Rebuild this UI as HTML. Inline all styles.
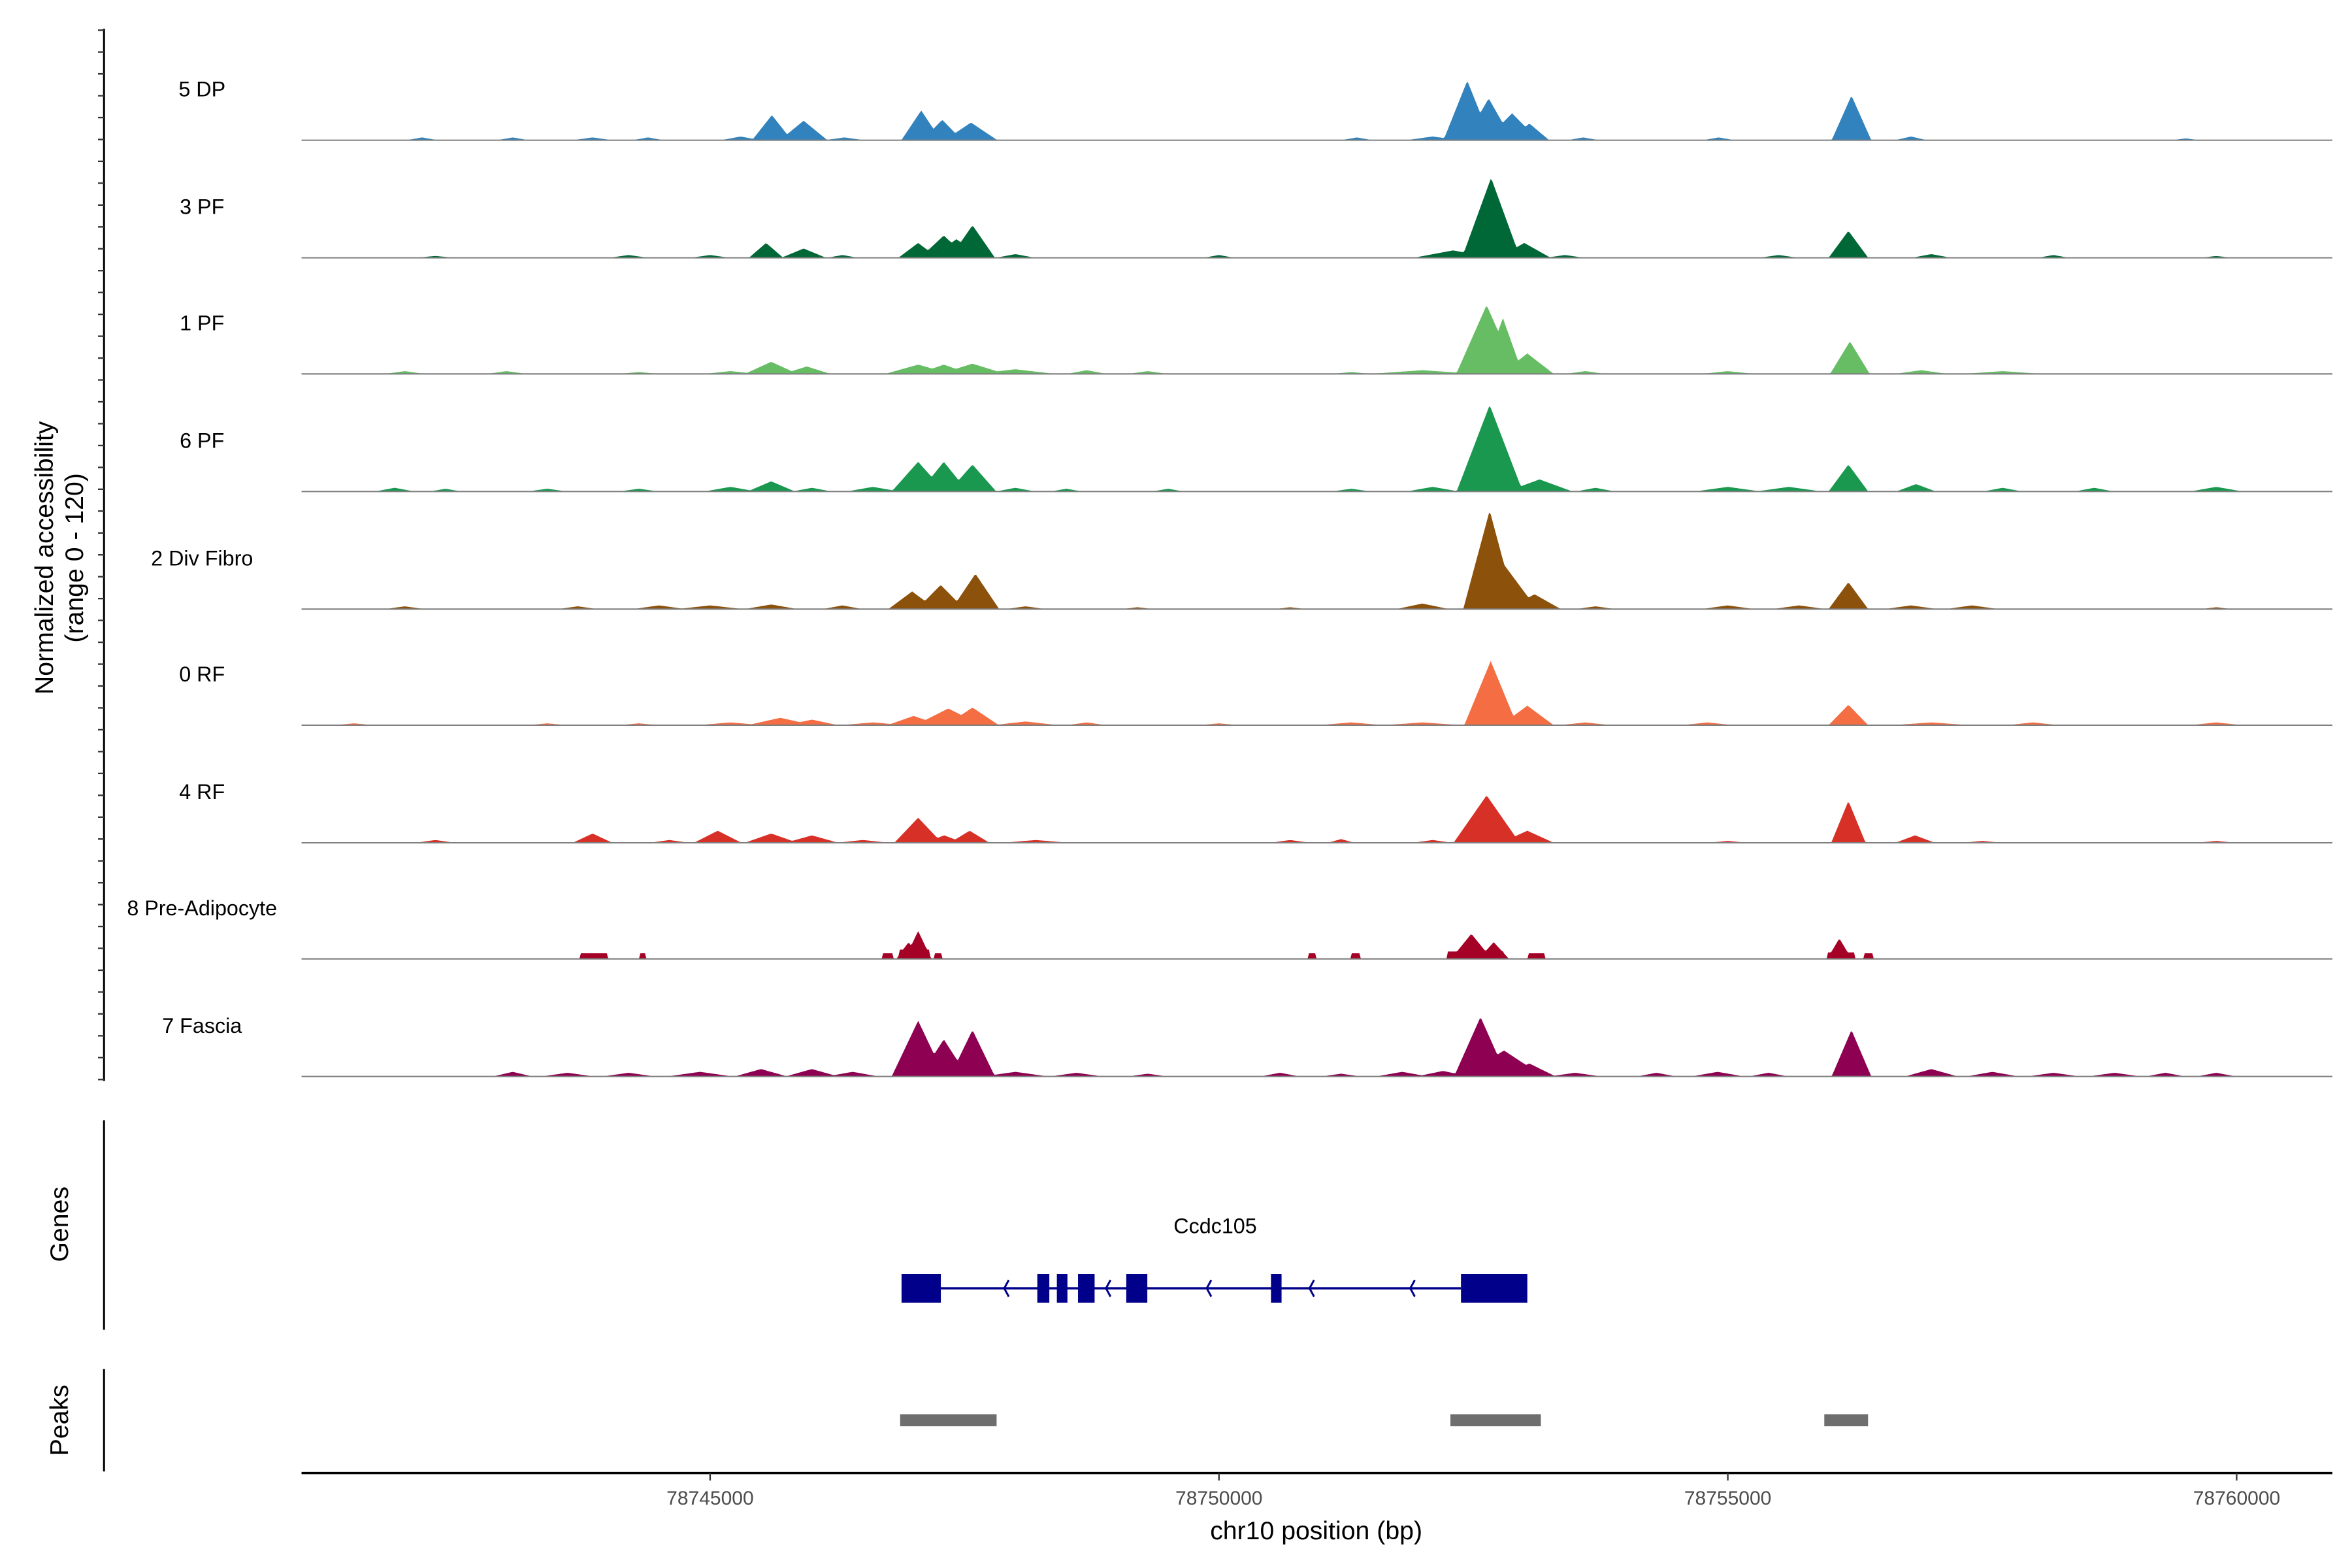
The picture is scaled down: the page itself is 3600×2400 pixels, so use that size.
<!DOCTYPE html>
<html><head><meta charset="utf-8"><style>
html,body{margin:0;padding:0;background:#fff}
svg{display:block}
text{font-family:"Liberation Sans",Arial,sans-serif}
</style></head><body>
<svg id="chart" width="3600" height="2400" viewBox="0 0 1560 1040" xmlns="http://www.w3.org/2000/svg">
<g id="tracks"></g>
<g id="yaxis"></g>
<text transform="translate(35,370) rotate(-90)" text-anchor="middle" font-size="17">Normalized accessibility</text>
<text transform="translate(55,370) rotate(-90)" text-anchor="middle" font-size="17">(range 0 - 120)</text>
<line x1="69" y1="743" x2="69" y2="882" stroke="#000" stroke-width="1.3"/>
<text transform="translate(45,812) rotate(-90)" text-anchor="middle" font-size="17">Genes</text>
<line x1="69" y1="908" x2="69" y2="976" stroke="#000" stroke-width="1.3"/>
<text transform="translate(45,942) rotate(-90)" text-anchor="middle" font-size="17">Peaks</text>
<g id="genes"></g>
<g id="peaks"></g>
<g id="xaxis"></g>
<text x="873" y="1021" text-anchor="middle" font-size="17">chr10 position (bp)</text>
</svg>
<script>
// ---- data ----
const trackNames = ["5 DP","3 PF","1 PF","6 PF","2 Div Fibro","0 RF","4 RF","8 Pre-Adipocyte","7 Fascia"];
const trackColors = ["#3182bd","#006837","#66bd63","#1a9850","#8c510a","#f46d43","#d73027","#a50026","#8e0152"];
// peaks per track: [position bp, value, half-width bp]
const peaks5DP = [[78742170,3,120],[78743060,3,120],[78743845,3,150],[78744390,3,120],[78745300,4,150],[78745607,27,150],[78745919,21,180],[78746320,3,150],[78747074,32,150],[78747281,22,150],[78747563,19,200],[78751355,3,120],[78752100,4,200],[78752440,64,180],[78752650,45,180],[78752880,29,200],[78753050,18,150],[78753580,3,120],[78754910,3,120],[78756215,48,150],[78756800,4,120],[78759500,2,100]];
const peaks3PF = [[78742300,2,150],[78744200,3,150],[78745000,3,150],[78745550,16,130],[78745919,10,170],[78746300,3,120],[78747044,16,150],[78747296,24,180],[78747420,20,200],[78747578,35,170],[78748000,4,150],[78750000,3,120],[78752300,8,300],[78752674,86,220],[78753000,16,200],[78753400,3,150],[78755500,3,150],[78756185,29,150],[78757000,4,150],[78758200,3,120],[78759800,2,120]];
const peaks1PF = [[78742000,3,150],[78743000,3,150],[78744300,2,150],[78745200,3,200],[78745600,13,200],[78745950,8,180],[78747044,10,250],[78747296,10,200],[78747578,11,250],[78748000,5,300],[78748700,4,150],[78749300,3,150],[78751300,2,150],[78752000,4,400],[78752630,74,230],[78752790,60,150],[78753030,22,200],[78753600,3,150],[78755000,3,200],[78756200,35,150],[78756900,4,200],[78757700,3,300]];
const peaks6PF = [[78741900,4,150],[78742400,3,120],[78743400,3,150],[78744300,3,150],[78745200,5,200],[78745600,11,180],[78746000,4,150],[78746600,5,200],[78747044,32,200],[78747296,32,180],[78747578,29,180],[78748000,4,150],[78748500,3,120],[78749500,3,120],[78751300,3,150],[78752100,5,200],[78752660,93,250],[78753150,13,250],[78753700,4,150],[78755000,5,250],[78755600,5,250],[78756185,29,150],[78756850,8,150],[78757700,4,150],[78758600,4,150],[78759800,5,200]];
const peaks2DF = [[78742000,3,150],[78743700,3,150],[78744500,4,200],[78745000,4,250],[78745600,5,200],[78746300,4,150],[78746985,19,180],[78747266,26,180],[78747607,38,180],[78748100,3,150],[78749200,2,120],[78750700,2,120],[78752000,6,200],[78752660,106,200],[78752800,48,250],[78753100,16,200],[78753700,3,150],[78755000,4,200],[78755700,4,200],[78756185,29,150],[78756800,4,200],[78757400,4,200],[78759800,2,120]];
const peaks0RF = [[78741500,2,150],[78743400,2,150],[78744300,2,150],[78745200,3,250],[78745690,8,250],[78746000,6,200],[78746600,3,250],[78747000,10,200],[78747340,18,250],[78747578,19,200],[78748100,4,250],[78748700,3,150],[78750000,2,150],[78751300,3,250],[78752000,3,300],[78752670,69,200],[78753030,21,200],[78753600,3,200],[78754800,3,200],[78756185,22,150],[78757000,3,300],[78758000,3,200],[78759800,3,200]];
const peaks4RF = [[78742300,3,150],[78743845,10,150],[78744600,3,150],[78745075,13,180],[78745600,10,200],[78746000,8,200],[78746500,3,200],[78747044,27,180],[78747300,8,150],[78747550,13,150],[78748200,3,250],[78750700,3,150],[78751200,4,100],[78752100,3,150],[78752630,51,250],[78753030,13,200],[78755000,2,150],[78756185,45,130],[78756840,8,150],[78757500,2,150],[78759800,2,150]];
const peaks8PA = [[78746950,18,120],[78747044,30,130],[78752480,27,200],[78752700,18,150],[78756096,22,120]];
const peaks7FA = [[78743060,5,150],[78743600,4,200],[78744200,4,200],[78744900,5,250],[78745500,8,200],[78746000,8,200],[78746400,5,200],[78747044,60,200],[78747296,40,180],[78747578,50,170],[78748000,5,250],[78748600,4,200],[78749300,3,150],[78750600,4,150],[78751200,3,150],[78751800,5,200],[78752200,6,200],[78752570,64,200],[78752800,28,300],[78753050,14,200],[78753500,4,200],[78754300,4,150],[78754900,5,200],[78755400,4,150],[78756215,50,150],[78757000,8,200],[78757600,5,200],[78758200,4,200],[78758800,4,200],[78759300,4,150],[78759800,4,150]];
const peaksList = [peaks5DP,peaks3PF,peaks1PF,peaks6PF,peaks2DF,peaks0RF,peaks4RF,peaks8PA,peaks7FA];
// flat blocks for 8 Pre-Adipocyte: [start, end, value]
const blocks8PA = [[78743726,78743993,6],[78744304,78744363,6],[78746689,78746793,6],[78746860,78747150,10],[78747207,78747281,6],[78750882,78750956,6],[78751296,78751385,6],[78752250,78752800,8],[78753045,78753208,6],[78755980,78756250,7],[78756333,78756422,6]];
const xTicks = [78745000,78750000,78755000,78760000];
const xTickLabels = ["78745000","78750000","78755000","78760000"];
const geneExons = [[78746881,78747267],[78748215,78748333],[78748407,78748511],[78748615,78748778],[78749089,78749296],[78750511,78750615],[78752378,78753030]];
const geneArrows = [78747890,78748890,78749880,78750890,78751880];
const peakRegions = [[78746867,78747815],[78752274,78753163],[78755948,78756378]];

// ---- scales ----
const X0 = 78745000, PX0 = 471, PXPERBP = 67.5/1000;
const xs = bp => PX0 + (bp - X0) * PXPERBP;
const bpMin = 78741000, bpMax = 78760950;
const baselines = [93,171,248,326,404,481,559,636,714];
const YMAX = 120, PANELH = 74;
const ys = (v, i) => baselines[i] - Math.min(v, YMAX) / YMAX * PANELH;
const WIDTH_FACTOR = 1.3, SHAPE_EXP = 1.0;

const NS = "http://www.w3.org/2000/svg";
function mk(tag, attrs, parent){const e=document.createElementNS(NS,tag);for(const k in attrs)e.setAttribute(k,attrs[k]);parent.appendChild(e);return e;}

const tracksG = document.getElementById('tracks');
trackNames.forEach((name, i) => {
  const g = mk('g', {}, tracksG);
  
  
  const lab = mk('text', {x:134, y:baselines[i]-29, 'text-anchor':'middle', 'font-size':14}, g);
  lab.textContent = name;
  
  
  const pk = peaksList[i];
  const wf = i === 7 ? 1.0 : WIDTH_FACTOR;
  let d = 'M' + xs(bpMin) + ',' + baselines[i];
  for (let bp = bpMin; bp <= bpMax; bp += 15) {
    let v = 0;
    for (const p of pk) {
      const t = 1 - Math.abs(bp - p[0]) / (p[2] * wf);
      if (t > 0) v = Math.max(v, p[1] * Math.pow(t, SHAPE_EXP));
    }
    if (i === 7) for (const b of blocks8PA) if (bp >= b[0] && bp <= b[1]) v = Math.max(v, b[2]);
    d += 'L' + xs(bp).toFixed(2) + ',' + ys(v, i).toFixed(2);
  }
  d += 'L' + xs(bpMax) + ',' + baselines[i] + 'Z';
  const area = mk('path', {d:d, fill:trackColors[i], stroke:'none'}, g);
  
  
  const bl = mk('line', {x1:200, x2:1547, y1:baselines[i], y2:baselines[i], stroke:'#7f7f7f', 'stroke-width':0.9}, g);
  
  
});

// y axis
const ya = document.getElementById('yaxis');
const yl = mk('line', {x1:69, x2:69, y1:19, y2:717, stroke:'#000', 'stroke-width':1.3}, ya);


for (let y = 20; y <= 717; y += 14.5) {
  const t = mk('line', {x1:65, x2:69, y1:y, y2:y, stroke:'#333', 'stroke-width':1}, ya);
  
  
}

// genes
const gg = document.getElementById('genes');
const gl = mk('text', {x:806, y:818, 'text-anchor':'middle', 'font-size':14}, gg);
gl.textContent = 'Ccdc105';


const intron = mk('line', {x1:xs(geneExons[0][0]), x2:xs(geneExons[geneExons.length-1][0]), y1:854.5, y2:854.5, stroke:'#00008b', 'stroke-width':1.5}, gg);


geneArrows.forEach(a => {
  const x = xs(a);
  const p = mk('path', {d:`M${x+3},${849} L${x},${854.5} L${x+3},${860}`, fill:'none', stroke:'#00008b', 'stroke-width':1.3}, gg);
  
  
});
geneExons.forEach(e => {
  const r = mk('rect', {x:xs(e[0]), y:845, width:xs(e[1])-xs(e[0]), height:19, fill:'#00008b'}, gg);
  
  
});

// peaks
const pg = document.getElementById('peaks');
peakRegions.forEach(p => {
  const r = mk('rect', {x:xs(p[0]), y:938, width:xs(p[1])-xs(p[0]), height:8, fill:'#6e6e6e'}, pg);
  
  
});

// x axis
const xa = document.getElementById('xaxis');
const xl = mk('line', {x1:200, x2:1547, y1:977, y2:977, stroke:'#000', 'stroke-width':1.5}, xa);


xTicks.forEach((t, k) => {
  const x = xs(t);
  const tk = mk('line', {x1:x, x2:x, y1:977, y2:982, stroke:'#333', 'stroke-width':1}, xa);
  
  
  const tl = mk('text', {x:x, y:998, 'text-anchor':'middle', 'font-size':13, fill:'#4d4d4d'}, xa);
  tl.textContent = xTickLabels[k];
  
  
});
</script>
</body></html>
